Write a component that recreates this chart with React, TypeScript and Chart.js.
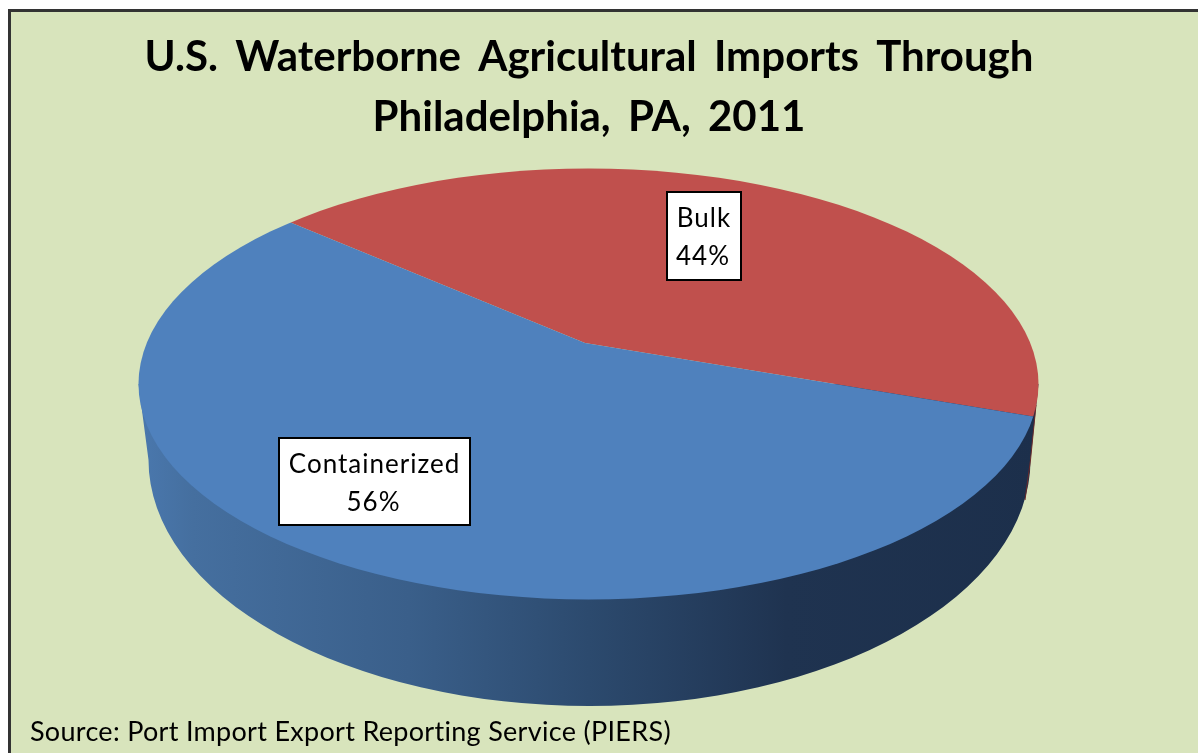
import React, { useEffect, useRef } from "react";
import { Chart, registerables } from "chart.js";

Chart.register(...registerables);

const titleLines = ["U.S. Waterborne Agricultural Imports Through", "Philadelphia, PA, 2011"];
const categories = ["Bulk", "Containerized"];
const shares = [44, 56];
const sliceColors = ["#c0504d", "#4f81bd"];
const sourceNote = "Source: Port Import Export Reporting Service (PIERS)";

const FONT = "Lato, Carlito, sans-serif";
const TOP = { cx: 588.5, cy: 384, rx: 450, ry: 215.5 };
const BOTTOM = { cx: 589.5, cy: 460, rx: 441, ry: 246 };
const APEX = { x: 585, y: 343 };
const TILT = 0.48;
const LABEL_BOXES = [
  { x: 667, y: 192, w: 74, h: 88 },
  { x: 279, y: 438, w: 191, h: 87 },
];

const pie3d = {
  id: "pie3d",
  beforeDraw(chart: any) {
    const ctx = chart.ctx;
    ctx.save();
    ctx.fillStyle = "#ffffff";
    ctx.fillRect(0, 0, chart.width, chart.height);
    ctx.fillStyle = "#d8e4bc";
    ctx.fillRect(8, 9, chart.width - 8, chart.height - 9);
    ctx.fillStyle = "#333333";
    ctx.fillRect(8, 9, chart.width - 8, 3);
    ctx.fillRect(8, 9, 3, chart.height - 9);
    ctx.restore();
    ctx.wordSpacing = "7px";
  },
  beforeDatasetsDraw(chart: any) {
    const ctx = chart.ctx;
    ctx.wordSpacing = "0px";
    // side wall
    const g = ctx.createLinearGradient(TOP.cx - TOP.rx, 0, TOP.cx + TOP.rx, 0);
    g.addColorStop(0, "#4a78ae");
    g.addColorStop(0.06, "#456f9f");
    g.addColorStop(0.3, "#3a5f8a");
    g.addColorStop(0.5, "#2c4a6e");
    g.addColorStop(0.72, "#1f3350");
    g.addColorStop(1, "#1c2f4b");
    ctx.save();
    ctx.fillStyle = g;
    ctx.beginPath();
    ctx.moveTo(TOP.cx - TOP.rx, TOP.cy);
    ctx.lineTo(BOTTOM.cx - BOTTOM.rx, BOTTOM.cy);
    ctx.ellipse(BOTTOM.cx, BOTTOM.cy, BOTTOM.rx, BOTTOM.ry, 0, Math.PI, 0, true);
    ctx.lineTo(TOP.cx + TOP.rx, TOP.cy);
    ctx.closePath();
    ctx.fill();
    // thin sliver of the red slice's wall on the far right
    ctx.strokeStyle = "#6b2a2a";
    ctx.lineWidth = 1;
    ctx.beginPath();
    ctx.moveTo(1036, 405);
    ctx.lineTo(1030.5, 460);
    ctx.lineTo(1025, 500);
    ctx.stroke();
    ctx.restore();
    // flatten the pie into the top ellipse, pivoting on the off-centre apex
    const arc = chart.getDatasetMeta(0).data[0];
    const k = 570 / arc.outerRadius;
    ctx.save();
    ctx.beginPath();
    ctx.ellipse(TOP.cx, TOP.cy, TOP.rx, TOP.ry, 0, 0, Math.PI * 2);
    ctx.clip();
    ctx.translate(APEX.x, APEX.y);
    ctx.scale(k, k * TILT);
    ctx.translate(-arc.x, -arc.y);
  },
  afterDatasetsDraw(chart: any) {
    const ctx = chart.ctx;
    ctx.restore();
    ctx.save();
    categories.forEach((name, i) => {
      const b = LABEL_BOXES[i];
      ctx.fillStyle = "#ffffff";
      ctx.strokeStyle = "#000000";
      ctx.lineWidth = 2;
      ctx.fillRect(b.x, b.y, b.w, b.h);
      ctx.strokeRect(b.x, b.y, b.w, b.h);
      ctx.fillStyle = "#000000";
      ctx.font = `400 26px ${FONT}`;
      ctx.textAlign = "center";
      ctx.textBaseline = "alphabetic";
      ctx.letterSpacing = "1px";
      ctx.fillText(name, b.x + b.w / 2, b.y + 35);
      ctx.fillText(`${shares[i]}%`, b.x + b.w / 2 - 1, b.y + 73);
    });
    ctx.font = `400 27px ${FONT}`;
    ctx.textAlign = "left";
    ctx.fillStyle = "#000000";
    ctx.letterSpacing = "0.3px";
    ctx.fillText(sourceNote, 30, 741);
    ctx.restore();
  },
};

export default function App() {
  const ref = useRef<HTMLCanvasElement>(null);
  useEffect(() => {
    const chart = new Chart(ref.current!, {
      type: "pie",
      data: {
        labels: categories,
        datasets: [
          {
            data: shares,
            backgroundColor: sliceColors,
            borderWidth: 0,
            clip: false,
          } as any,
        ],
      },
      options: {
        responsive: false,
        animation: false,
        rotation: -49.55,
        layout: { padding: { right: 20 } },
        plugins: {
          legend: { display: false },
          tooltip: { enabled: false },
          title: {
            display: true,
            text: titleLines,
            color: "#000000",
            font: { family: FONT, size: 42, weight: "bold", lineHeight: 1.42 },
            padding: { top: 28, bottom: 10 },
          },
        },
      },
      plugins: [pie3d],
    });
    return () => chart.destroy();
  }, []);
  return (
    <canvas
      ref={ref}
      width={1198}
      height={753}
      style={{ position: "absolute", left: 0, top: 0, display: "block" }}
    />
  );
}
